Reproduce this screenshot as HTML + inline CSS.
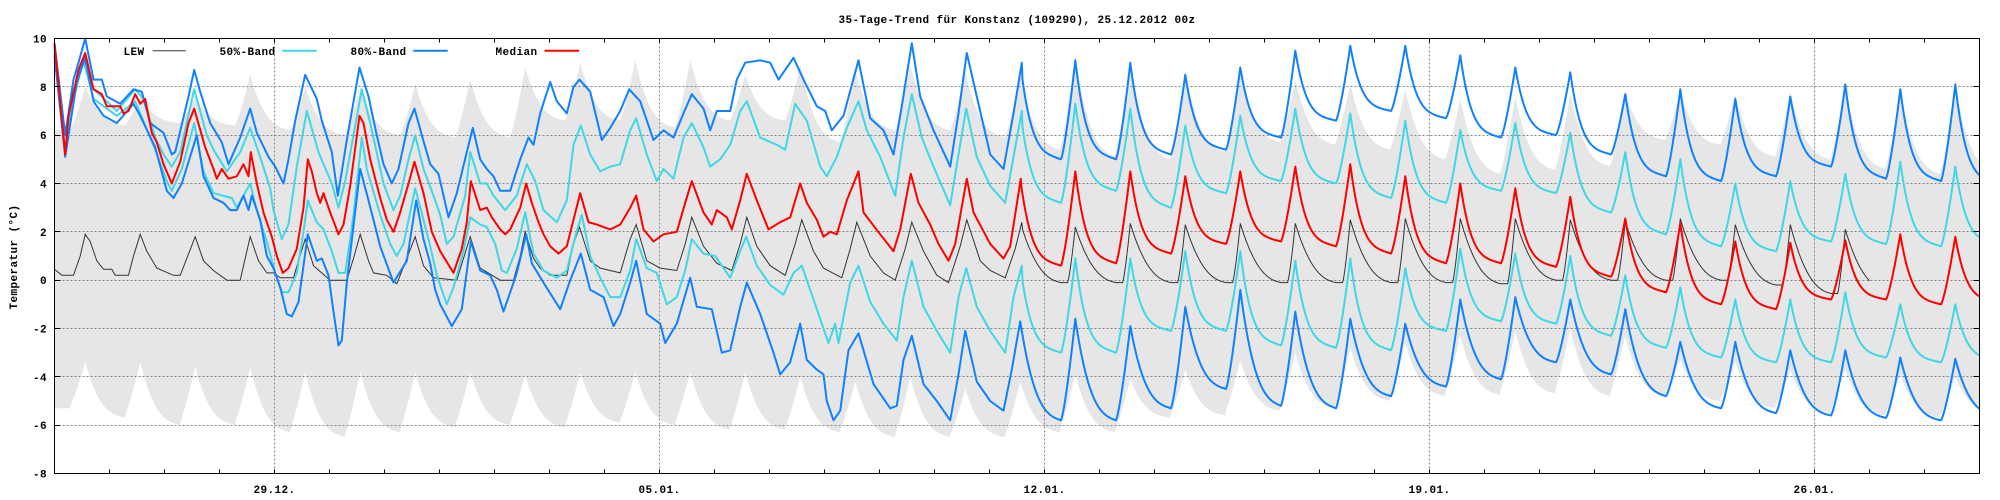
<!DOCTYPE html>
<html><head><meta charset="utf-8"><title>35-Tage-Trend</title>
<style>
html,body{margin:0;padding:0;background:#fff;}
svg{display:block;}
text{font-family:"Liberation Mono","DejaVu Sans Mono",monospace;font-weight:bold;font-size:11px;letter-spacing:0.4px;fill:#000;}
</style></head><body>
<svg width="2000" height="500" viewBox="0 0 2000 500" xmlns="http://www.w3.org/2000/svg">
<rect x="0" y="0" width="2000" height="500" fill="#fff"/>
<path id="grey" fill="#e6e6e6" stroke="none" d=""/>
<g stroke="#858585" stroke-width="1" stroke-dasharray="2,2" fill="none">
<path d="M54.5,86.5H1979.5M54.5,135.5H1979.5M54.5,183.5H1979.5M54.5,231.5H1979.5M54.5,280.5H1979.5M54.5,328.5H1979.5M54.5,376.5H1979.5M54.5,425.5H1979.5"/>
<path d="M274.5,38.5V473.5M659.5,38.5V473.5M1044.5,38.5V473.5M1429.5,38.5V473.5M1814.5,38.5V473.5"/>
</g>
<path id="lew" fill="none" stroke="#333" stroke-width="1" d=""/>
<path id="c50u" fill="none" stroke="#3fd7e6" stroke-width="2" stroke-linejoin="round" d=""/>
<path id="c50l" fill="none" stroke="#3fd7e6" stroke-width="2" stroke-linejoin="round" d=""/>
<path id="c80u" fill="none" stroke="#0f80ff" stroke-width="2" stroke-linejoin="round" d=""/>
<path id="c80l" fill="none" stroke="#0f80ff" stroke-width="2" stroke-linejoin="round" d=""/>
<path id="med" fill="none" stroke="#ff0000" stroke-width="2" stroke-linejoin="round" d=""/>
<rect x="54.5" y="38.5" width="1925" height="435" fill="none" stroke="#000" stroke-width="1"/>
<path id="ticks" fill="none" stroke="#000" stroke-width="1" d=""/>

<text x="1017" y="23" text-anchor="middle">35-Tage-Trend für Konstanz (109290), 25.12.2012 00z</text>

<text x="144.5" y="55" text-anchor="end">LEW</text>
<text x="275.5" y="55" text-anchor="end">50%-Band</text>
<text x="406.5" y="55" text-anchor="end">80%-Band</text>
<text x="537.5" y="55" text-anchor="end">Median</text>
<line x1="152.7" y1="50.7" x2="185.7" y2="50.7" stroke="#333" stroke-width="1"/>
<line x1="282.3" y1="50.7" x2="316.7" y2="50.7" stroke="#3fd7e6" stroke-width="2"/>
<line x1="413.3" y1="50.7" x2="447.7" y2="50.7" stroke="#0f80ff" stroke-width="2"/>
<line x1="544.6" y1="50.7" x2="579" y2="50.7" stroke="#ff0000" stroke-width="2"/>

<g text-anchor="end">
<text x="47" y="42.5">10</text>
<text x="47" y="90.8">8</text>
<text x="47" y="139.2">6</text>
<text x="47" y="187.5">4</text>
<text x="47" y="235.8">2</text>
<text x="47" y="284.2">0</text>
<text x="47" y="332.5">-2</text>
<text x="47" y="380.8">-4</text>
<text x="47" y="429.2">-6</text>
<text x="47" y="477.5">-8</text>
</g>
<g text-anchor="middle">
<text x="274.5" y="493">29.12.</text>
<text x="659.5" y="493">05.01.</text>
<text x="1044.5" y="493">12.01.</text>
<text x="1429.5" y="493">19.01.</text>
<text x="1814.5" y="493">26.01.</text>
</g>
<text transform="translate(17,257) rotate(-90)" text-anchor="middle">Temperatur (°C)</text>
</svg>
<script>
(function(){
const X=d=>54.5+55*d, Y=v=>280.17-24.1667*v;
const A=a=>a.map(p=>[(p[0]-43)/165,p[1]]);
const B=a=>a.map(p=>[9+(p[0]-58)/165,p[1]]);
function ar(s,l){const a=[];l.forEach((v,i)=>a[s+i]=v);return a;}
function cv(P,T,t,pw,rp,rs){
  const n=Math.floor(t-0.3), u=t-n;
  if(u<0.56){
    if(T[n]===undefined||P[n]===undefined) return T[n]!==undefined?T[n]:(P[n]!==undefined?P[n]:T[n+1]);
    if(u<rs) return T[n];
    return T[n]+(P[n]-T[n])*Math.pow((u-rs)/(0.56-rs),rp);
  }
  if(P[n]===undefined) return T[n+1];
  if(T[n+1]===undefined) return P[n];
  const s=u-0.56, q=Math.max(0,1-s/0.74);
  const f=0.85*Math.pow(q,pw)+0.15*q;
  return T[n+1]+f*(P[n]-T[n+1]);
}
function series(a,b,P,T,end,pw,rp,rs){
  let pts=A(a); let last=pts[pts.length-1][0];
  B(b).forEach(p=>{if(p[0]>last+0.001){pts.push(p);last=p[0];}});
  const t0=pts[pts.length-1][0];
  for(let i=Math.ceil((t0+0.005)/0.02);i*0.02<=end+1e-9;i++){const t=i*0.02;pts.push([t,cv(P,T,t,pw,rp,rs)]);}
  return pts;
}
function path(pts){return 'M'+pts.map(p=>X(p[0]).toFixed(1)+','+Y(p[1]).toFixed(1)).join('L');}
function set(id,d){document.getElementById(id).setAttribute('d',d);}

// Median
const medA=[[43,9.8],[75,5.2],[85,6.8],[115,8.7],[135,9.4],[160,7.9],[185,7.7],[200,7.2],[240,7.2],[250,6.9],[265,7.0],[285,7.7],[300,7.3],[315,7.5],[335,6.1],[350,5.7],[370,4.8],[395,4.0],[420,4.9],[445,6.5],[462,7.1],[495,5.5],[520,4.6],[530,4.2],[545,4.6],[565,4.2],[590,4.3],[610,4.8],[625,4.3],[632,5.3],[650,4.0],[670,2.8],[695,1.8],[710,1.0],[728,0.3],[745,0.5],[770,1.3],[790,3.0],[803,5.0],[815,4.5],[830,3.6],[840,3.2],[850,3.6],[870,2.8],[895,1.9],[910,2.3],[930,3.9],[958,6.8],[970,6.5],[990,5.0],[1020,3.4],[1040,2.5],[1060,2.0],[1080,2.8],[1105,4.0],[1123,4.9],[1150,3.6],[1175,2.0],[1200,1.2],[1240,0.3],[1265,1.3],[1280,2.4],[1292,4.1],[1320,2.9],[1340,3.0],[1355,2.6],[1380,2.1],[1395,1.9],[1410,2.1],[1440,3.0],[1458,4.0],[1475,3.2],[1495,2.4]];
const medB=[[40,1.9],[60,1.4],[85,1.1],[110,1.4],[130,2.5],[150,3.6],[175,2.4],[200,2.3],[240,2.1],[270,2.3],[300,3.0],[318,3.5],[340,2.1],[370,1.6],[400,1.9],[440,2.0],[465,3.2],[485,4.1],[520,2.8],[545,2.3],[560,2.9],[590,2.6],[605,2.1],[630,3.3],[650,4.4],[680,3.3],[715,2.1],[750,2.4],[780,2.6],[810,4.0],[830,3.2],[860,2.5],[880,1.8],[900,2.0],[920,1.9],[950,3.3],[985,4.5],[1000,2.8],[1050,1.9],[1090,1.2],[1110,2.1],[1142,4.4],[1165,3.2],[1200,2.3],[1225,1.5],[1255,0.8],[1275,1.5],[1310,4.2],[1330,2.8],[1380,1.5],[1420,0.9],[1440,1.4],[1472,4.2]];
const medP=ar(17,[4.2,4.5,4.5,4.3,4.5,4.7,4.8,4.3,4.0,3.8,3.45,2.55,2.35,1.6,1.55,1.65,1.9,1.8]);
const medT=ar(18,[0.6,0.7,1.1,1.5,1.6,1.4,1.1,0.7,0.7,0.55,0.14,-0.5,-1.0,-1.2,-0.8,-0.8,-1.0,-0.9]);

// 80% upper
const u80A=[[43,9.8],[75,6.0],[100,8.3],[115,9.0],[135,10.0],[160,8.3],[185,8.3],[200,7.6],[240,7.3],[280,7.9],[305,7.8],[330,6.5],[370,6.1],[395,5.2],[405,5.3],[445,7.6],[462,8.7],[480,7.8],[510,6.5],[545,5.7],[565,4.8],[600,5.9],[630,7.1],[650,6.1],[685,5.1],[705,4.7],[730,4.0],[745,5.0],[765,6.6],[795,8.5],[830,7.5],[845,6.6],[875,5.3],[893,3.5],[905,4.5],[920,5.8],[958,8.8],[985,7.6],[1010,6.0],[1030,4.8],[1055,4.0],[1075,4.6],[1105,6.5],[1123,7.1],[1145,6.0],[1170,4.8],[1195,4.4],[1225,2.6],[1250,3.6],[1280,5.3],[1298,6.3],[1320,5.0],[1340,4.6],[1360,4.3],[1380,3.7],[1410,3.7],[1440,5.0],[1465,5.9],[1480,5.6]];
const u80B=[[30,6.9],[60,8.2],[80,7.4],[110,6.9],[130,8.0],[148,8.3],[180,7.8],[215,5.8],[240,6.3],[270,7.0],[297,7.9],[330,7.4],[370,5.8],[400,6.2],[430,5.9],[460,6.9],[485,7.7],[520,7.1],[540,6.2],[560,7.0],[600,7.0],[620,8.3],[645,9.0],[690,9.1],[720,9.0],[745,8.3],[790,9.2],[820,8.3],[860,7.2],[885,7.0],[905,6.2],[940,6.8],[985,9.1],[1020,6.7],[1060,6.2],[1090,5.2],[1115,7.2],[1145,9.8],[1170,7.6],[1210,6.2],[1260,4.7],[1285,6.9],[1310,9.4],[1340,7.6],[1380,5.2],[1420,4.6],[1450,6.9],[1475,9.0]];
const u80P=ar(17,[9.0,9.1,9.0,8.5,8.8,9.5,9.7,9.7,9.3,8.8,8.6,7.7,7.9,7.5,7.6,8.1,7.9,8.1]);
const u80T=ar(18,[5.0,5.0,5.2,5.4,5.9,6.6,7.0,6.7,5.9,6.0,5.2,4.3,4.1,4.3,4.7,4.2,4.1,4.0]);

// 50% upper
const u50A=[[43,9.6],[75,5.4],[100,7.8],[130,9.2],[160,7.9],[185,7.6],[230,7.0],[285,7.9],[310,7.5],[345,5.9],[370,5.2],[395,4.7],[420,5.3],[462,7.9],[500,6.0],[520,5.4],[560,4.5],[600,5.3],[630,6.3],[660,5.1],[690,3.8],[700,2.9],[725,1.7],[745,2.3],[770,4.7],[800,7.0],[835,5.3],[850,4.8],[875,4.0],[895,3.0],[915,4.1],[965,7.9],[990,6.5],[1030,4.0],[1060,2.9],[1080,3.5],[1105,5.0],[1125,6.0],[1150,4.6],[1180,3.5],[1200,2.7],[1220,1.5],[1240,1.8],[1275,3.5],[1290,5.3],[1320,4.0],[1340,4.0],[1360,3.5],[1395,2.9],[1430,3.5],[1460,4.8],[1485,4.1]];
const u50B=[[40,2.9],[80,2.4],[110,3.3],[130,5.6],[152,6.4],[180,5.2],[210,4.5],[240,4.7],[270,4.8],[300,6.2],[318,6.7],[350,5.2],[380,4.1],[400,4.6],[430,4.2],[460,5.9],[485,6.5],[520,5.5],[540,4.7],[570,5.0],[600,5.6],[630,7.0],[650,7.4],[690,5.9],[740,5.6],[765,5.4],[795,7.3],[830,6.6],[870,4.7],[890,4.3],[920,5.1],[950,6.3],[985,7.4],[1010,6.2],[1050,5.1],[1095,3.5],[1120,5.9],[1145,7.7],[1175,5.9],[1210,4.7],[1260,3.1],[1285,5.2],[1308,7.1],[1340,5.1],[1380,3.9],[1425,3.2],[1450,5.1],[1475,7.0]];
const u50P=ar(17,[7.0,7.3,7.1,6.4,6.8,7.1,6.9,6.6,6.2,6.5,6.1,5.3,5.0,4.0,4.1,4.4,4.9,4.7]);
const u50T=ar(18,[3.2,3.7,3.0,3.6,4.1,4.0,3.4,3.2,3.7,3.6,2.8,1.9,1.4,1.2,1.6,1.5,1.4,1.5]);

// 50% lower
const l50A=[[43,9.4],[75,5.3],[100,7.5],[130,9.1],[160,7.5],[230,6.8],[285,7.4],[345,5.4],[380,4.1],[395,3.7],[425,4.6],[462,6.5],[490,4.5],[520,3.6],[575,3.4],[590,3.0],[630,4.0],[650,2.9],[680,1.6],[705,0.3],[725,-0.5],[745,-0.5],[770,0.3],[790,2.0],[803,3.3],[830,2.4],[850,2.1],[875,1.2],[895,0.3],[915,0.3],[940,2.7],[965,5.9],[980,4.6],[1020,2.7],[1050,1.5],[1070,1.0],[1090,1.5],[1125,3.8],[1150,2.5],[1170,1.4],[1190,0.2],[1220,-1.0],[1240,-0.3],[1270,1.2],[1290,2.6],[1320,2.3],[1340,2.2],[1365,1.5],[1385,0.4],[1400,0.3],[1430,1.3],[1455,2.8],[1480,1.1]];
const l50B=[[40,0.4],[80,0.1],[110,0.4],[135,1.8],[155,2.7],[180,1.0],[210,0.1],[240,-0.7],[270,-0.7],[300,0.4],[318,1.7],[350,0.5],[380,0.3],[410,-1.0],[440,-0.7],[465,0.4],[485,1.7],[520,1.1],[555,1.0],[600,0.1],[630,1.2],[648,1.8],[680,0.6],[720,-0.2],[760,-0.6],[790,0.3],[815,0.6],[850,-0.8],[895,-2.6],[915,-1.8],[925,-2.6],[960,-0.1],[985,0.6],[1020,-0.9],[1060,-1.8],[1100,-2.5],[1120,-0.7],[1145,0.8],[1180,-1.1],[1220,-2.1],[1260,-3.0],[1285,-0.7],[1308,0.5],[1340,-1.1],[1380,-2.1],[1425,-3.0],[1450,-0.7],[1475,0.6]];
const l50P=ar(17,[0.6,0.9,0.9,1.2,1.2,0.8,0.9,0.5,1.3,1.1,1.0,0.2,-0.3,-0.8,-0.8,-0.5,-1.0,-1.0]);
const l50T=ar(18,[-3.0,-3.0,-2.1,-2.1,-2.7,-2.8,-2.9,-2.1,-1.7,-1.8,-2.3,-2.8,-3.2,-3.4,-3.4,-3.2,-3.4,-3.3]);

// 80% lower
const l80A=[[43,9.3],[75,5.1],[110,8.2],[135,9.2],[160,7.4],[190,6.8],[230,6.5],[280,7.3],[300,6.8],[345,5.5],[380,3.7],[400,3.4],[425,4.0],[470,6.0],[490,4.3],[520,3.4],[550,3.2],[570,2.9],[590,2.9],[610,3.5],[625,2.9],[635,3.5],[660,2.5],[680,1.0],[700,0.5],[720,-0.3],[740,-1.4],[755,-1.5],[775,-0.9],[803,1.9],[830,0.8],[845,0.9],[865,0.2],[880,-1.3],[895,-2.7],[905,-2.5],[920,-0.1],[960,4.6],[985,3.3],[1020,1.4],[1060,-0.1],[1100,0.8],[1128,3.3],[1150,1.7],[1170,0.7],[1185,-0.4],[1200,-1.0],[1235,-1.9],[1265,-1.2],[1292,1.6],[1320,0.4],[1350,0.2],[1370,-0.4],[1390,-1.3],[1410,-0.5],[1430,0.3],[1458,1.9],[1475,0.7]];
const l80B=[[40,-0.1],[90,-1.2],[120,0.0],[152,1.1],[180,-0.4],[220,-0.7],[250,-1.9],[270,-1.4],[300,-0.1],[318,0.8],[350,-1.4],[390,-1.8],[405,-2.6],[440,-1.8],[480,0.1],[500,-1.1],[545,-1.2],[575,-3.0],[600,-2.9],[630,-1.1],[650,-0.1],[690,-1.4],[730,-3.0],[750,-3.9],[780,-3.4],[810,-1.8],[830,-3.3],[860,-3.7],[880,-3.9],[890,-5.0],[910,-5.8],[930,-5.4],[955,-2.9],[985,-2.2],[1030,-4.3],[1080,-5.3],[1100,-5.2],[1120,-3.3],[1145,-2.3],[1180,-4.3],[1220,-5.0],[1260,-5.8],[1285,-3.9],[1305,-2.1],[1340,-4.2],[1380,-5.0],[1420,-5.4],[1445,-3.7],[1470,-1.7]];
const l80P=ar(17,[-1.7,-1.6,-1.9,-1.1,-0.4,-1.3,-1.6,-1.8,-0.8,-0.7,-0.8,-1.2,-2.55,-2.55,-2.9,-2.9,-3.2,-3.25]);
const l80T=ar(18,[-5.8,-5.8,-5.3,-4.5,-5.2,-5.3,-4.8,-4.4,-4.1,-3.4,-3.9,-4.8,-5.3,-5.5,-5.6,-5.7,-5.8,-5.6]);

// LEW
const lewA=[[43,0.45],[65,0.2],[100,0.2],[120,1.0],[135,1.9],[150,1.6],[170,0.8],[190,0.45],[215,0.45],[225,0.2],[265,0.2],[280,1.0],[300,1.9],[320,1.2],[350,0.5],[400,0.2],[420,0.2],[440,0.9],[465,1.8],[490,0.8],[520,0.4],[560,0.0],[600,0.0],[615,0.9],[630,1.8],[655,0.8],[680,0.3],[700,0.3],[720,0.1],[760,0.1],[775,0.8],[795,1.7],[820,0.6],[870,0.0],[920,0.0],[940,0.9],[960,1.9],[985,0.8],[1000,0.3],[1040,0.2],[1070,-0.15],[1100,0.9],[1125,1.8],[1150,0.6],[1180,0.1],[1250,0.0],[1270,0.9],[1290,1.8],[1320,0.5],[1380,0.0],[1420,0.0],[1440,1.0],[1455,2.0],[1480,0.9],[1500,0.5]];
const lewB=[[60,0.2],[110,0.2],[130,1.5],[148,2.2],[180,0.8],[210,0.5],[270,0.3],[300,1.7],[318,2.3],[350,0.8],[390,0.5],[440,0.4],[465,1.5],[485,2.6],[520,1.4],[560,0.7],[605,0.4],[630,1.5],[650,2.6],[680,1.4],[720,0.6],[765,0.2],[795,1.5],[815,2.5],[850,1.2],[880,0.5],[935,0.1],[960,1.3],[980,2.4],[1020,1.0],[1060,0.3],[1095,0.0],[1125,1.3],[1145,2.4],[1180,1.2],[1220,0.2],[1255,-0.1],[1290,1.4],[1310,2.5],[1350,0.8],[1380,0.4],[1425,0.1],[1455,1.3],[1475,2.4]];
const lewP=ar(17,[2.4,2.2,2.35,2.3,2.35,2.35,2.5,2.55,2.55,2.55,2.5,2.45,2.55,2.3,2.3,2.1]);
const lewT=ar(18,[-0.1,-0.1,-0.1,-0.1,-0.1,-0.1,-0.1,-0.1,-0.15,0.0,0.0,0.0,0.0,-0.2,-0.55,-0.4]);

// Grey band
const guP=ar(0,[8.0,7.6,7.6,8.5,8.0,8.0,8.1,8.3,8.8,9.0,9.1,9.1,8.5,8.9,8.7,8.9,8.6,8.5,9.3,9.0,8.6,8.6,8.3,8.1,7.9,7.5,7.6,7.7,7.7,7.8,7.7,7.8,8.0,7.8,8.0]);
const guT=ar(0,[6.2,6.4,6.5,6.4,6.2,6.0,6.0,5.9,5.9,6.6,6.6,6.3,6.6,6.6,5.7,6.2,6.2,5.9,5.4,5.1,5.0,5.3,5.7,5.6,5.4,5.0,4.4,4.55,4.7,5.8,5.6,5.1,5.0,4.6,4.4,4.5]);
const glP=ar(0,[-3.4,-3.4,-3.6,-3.6,-3.8,-3.8,-3.8,-3.8,-3.9,-3.8,-3.8,-3.8,-3.8,-4.0,-4.2,-4.0,-4.5,-4.2,-3.9,-4.1,-3.7,-3.3,-3.0,-2.8,-2.6,-2.3,-2.1,-2.0,-2.3,-3.3,-3.4,-3.7,-3.7,-3.9,-4.0]);
const glT=ar(0,[-5.3,-5.7,-6.0,-6.0,-6.3,-6.5,-6.3,-6.1,-6.0,-6.1,-5.9,-6.0,-6.2,-6.2,-6.3,-6.5,-6.5,-6.5,-6.3,-6.3,-5.7,-5.6,-5.4,-5.3,-5.0,-4.8,-4.75,-4.7,-4.8,-4.8,-5.0,-5.3,-5.5,-5.6,-5.7,-5.5]);
const up=[],lo=[];
for(let i=0;i<=1750;i++){const t=i*0.02;up.push([t,cv(guP,guT,t,3,1.2,0.28)]);lo.push([t,cv(glP,glT,t,3,1.2,0.26)]);}
set('grey',path(up)+'L'+lo.reverse().map(p=>X(p[0]).toFixed(1)+','+Y(p[1]).toFixed(1)).join('L')+'Z');

set('lew',path(series(lewA,lewB,lewP,lewT,33,2.5,1.3,0.42)));
set('c50u',path(series(u50A,u50B,u50P,u50T,35,4,1.3,0.3)));
set('c50l',path(series(l50A,l50B,l50P,l50T,35,4,1.3,0.3)));
set('c80u',path(series(u80A,u80B,u80P,u80T,35,4,1.3,0.3)));
set('c80l',path(series(l80A,l80B,l80P,l80T,35,3,1.3,0.3)));
set('med',path(series(medA,medB,medP,medT,35,4,1.3,0.3)));

let d='';
for(let i=1;i<35;i++){const x=X(i).toFixed(1);d+='M'+x+',473.5V469.5M'+x+',38.5V42.5';}
[86.5,135.5,183.5,231.5,280.5,328.5,376.5,425.5].forEach(y=>{d+='M54.5,'+y+'H60.5M1979.5,'+y+'H1973.5';});
set('ticks',d);
})();
</script>
</body></html>
